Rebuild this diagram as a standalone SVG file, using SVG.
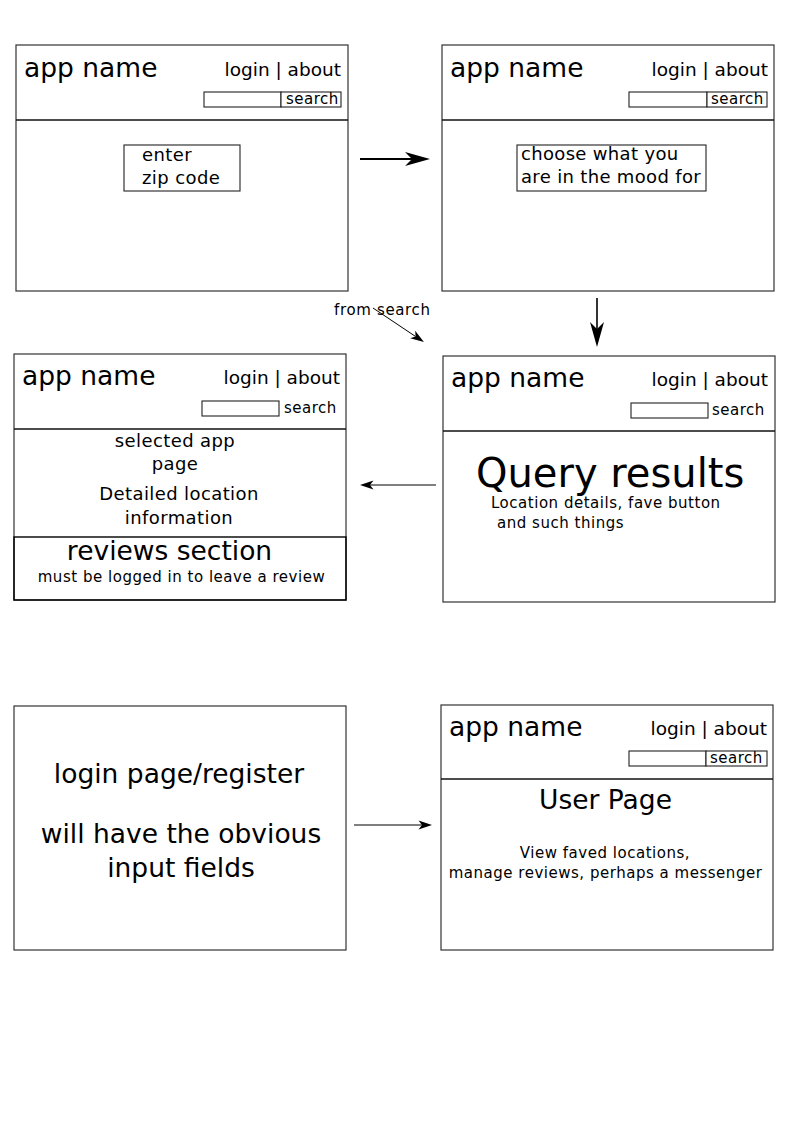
<svg xmlns="http://www.w3.org/2000/svg" width="794" height="1123" viewBox="0 0 794 1123">
<style>
  text { font-family: "DejaVu Sans", Verdana, sans-serif; fill: #000; }
  .frame { fill: #fff; stroke: #333; stroke-width: 1.2; }
  .div { stroke: #111; stroke-width: 1.3; fill: none; }
  .box { fill: #fff; stroke: #222; stroke-width: 1.1; }
  .title { font-size: 26.5px; }
  .nav { font-size: 18.5px; }
  .srch { font-size: 15px; letter-spacing: 0.5px; }
  .body { font-size: 18px; letter-spacing: 0.4px; }
  .small { font-size: 15px; letter-spacing: 0.52px; }
  .big { font-size: 40px; }
  .conn { stroke: #000; fill: none; }
</style>
<defs>
  <marker id="bigArrow" markerUnits="userSpaceOnUse" viewBox="-8 -8 27 16" refX="0" refY="0" markerWidth="27" markerHeight="16" orient="auto" overflow="visible">
    <path d="M18,0 L-7,-7 L0,0 L-7,7 Z" fill="#000"/>
  </marker>
  <marker id="smallArrow" markerUnits="userSpaceOnUse" viewBox="-4 -5 15 10" refX="0" refY="0" markerWidth="15" markerHeight="10" orient="auto" overflow="visible">
    <path d="M10,0 L-3.5,-4.5 L0,0 L-3.5,4.5 Z" fill="#000"/>
  </marker>
</defs>
<rect x="0" y="0" width="794" height="1123" fill="#fff"/>

<g id="zip-page">
  <rect class="frame" x="16" y="45" width="332" height="246"/>
  <line class="div" x1="16" y1="120" x2="348" y2="120"/>
  <text class="title" x="24" y="77">app name</text>
  <text class="nav" x="341" y="75.5" text-anchor="end">login | about</text>
  <rect class="box" x="204" y="92" width="77" height="15"/>
  <rect class="box" x="281" y="92" width="60" height="15"/>
  <text class="srch" x="286" y="104">search</text>
  <rect class="box" x="124" y="145" width="116" height="46"/>
  <text class="body" x="142" y="161">enter</text>
  <text class="body" x="142" y="184">zip code</text>
</g>

<g id="mood-page">
  <rect class="frame" x="442" y="45" width="332" height="246"/>
  <line class="div" x1="442" y1="120" x2="774" y2="120"/>
  <text class="title" x="450" y="77">app name</text>
  <text class="nav" x="768" y="75.5" text-anchor="end">login | about</text>
  <rect class="box" x="629" y="92" width="78" height="15"/>
  <rect class="box" x="707" y="92" width="60" height="15"/>
  <text class="srch" x="711" y="104">search</text>
  <rect class="box" x="517" y="145" width="189" height="46"/>
  <text class="body" x="521" y="160" style="letter-spacing:0.33px">choose what you</text>
  <text class="body" x="521" y="183" style="letter-spacing:0.33px">are in the mood for</text>
</g>

<g id="app-page">
  <rect class="frame" x="14" y="354" width="332" height="246"/>
  <line class="div" x1="14" y1="429" x2="346" y2="429"/>
  <text class="title" x="22" y="385">app name</text>
  <text class="nav" x="340" y="383.5" text-anchor="end">login | about</text>
  <rect class="box" x="202" y="401" width="77" height="15"/>
  <text class="srch" x="284" y="413">search</text>
  <text class="body" x="175" y="447" text-anchor="middle">selected app</text>
  <text class="body" x="175" y="470" text-anchor="middle">page</text>
  <text class="body" x="179" y="500" text-anchor="middle">Detailed location</text>
  <text class="body" x="179" y="524" text-anchor="middle">information</text>
  <rect x="14" y="537" width="332" height="63" fill="none" stroke="#000" stroke-width="1.4"/>
  <text class="title" x="169.5" y="560" text-anchor="middle">reviews section</text>
  <text class="small" x="181.5" y="582" text-anchor="middle">must be logged in to leave a review</text>
</g>

<g id="results-page">
  <rect class="frame" x="443" y="356" width="332" height="246"/>
  <line class="div" x1="443" y1="431" x2="775" y2="431"/>
  <text class="title" x="451" y="387">app name</text>
  <text class="nav" x="768" y="385.5" text-anchor="end">login | about</text>
  <rect class="box" x="631" y="403" width="77" height="15"/>
  <text class="srch" x="712" y="415">search</text>
  <text class="big" x="476" y="487">Query results</text>
  <text class="small" x="491" y="508">Location details, fave button</text>
  <text class="small" x="497" y="528">and such things</text>
</g>

<g id="login-page">
  <rect class="frame" x="14" y="706" width="332" height="244"/>
  <text class="title" x="179" y="782.5" text-anchor="middle">login page/register</text>
  <text class="title" x="181" y="843" text-anchor="middle">will have the obvious</text>
  <text class="title" x="181" y="877" text-anchor="middle">input fields</text>
</g>

<g id="user-page">
  <rect class="frame" x="441" y="705" width="332" height="245"/>
  <line class="div" x1="441" y1="779" x2="773" y2="779"/>
  <text class="title" x="449" y="736">app name</text>
  <text class="nav" x="767" y="734.5" text-anchor="end">login | about</text>
  <rect class="box" x="629" y="751" width="77" height="15"/>
  <rect class="box" x="706" y="751" width="61" height="15"/>
  <text class="srch" x="710" y="763">search</text>
  <text class="title" x="605.5" y="808.5" text-anchor="middle">User Page</text>
  <text class="small" x="605" y="858" text-anchor="middle">View faved locations,</text>
  <text class="small" x="605.5" y="878" text-anchor="middle">manage reviews, perhaps a messenger</text>
</g>

<g id="connectors">
  <line class="conn" x1="360" y1="159" x2="412" y2="159" stroke-width="2" marker-end="url(#bigArrow)"/>
  <line class="conn" x1="597" y1="298" x2="597" y2="329" stroke-width="1.6" marker-end="url(#bigArrow)"/>
  <line class="conn" x1="373" y1="308" x2="415.6" y2="336.5" stroke-width="1" marker-end="url(#smallArrow)"/>
  <line class="conn" x1="436" y1="485" x2="370" y2="485" stroke-width="1" marker-end="url(#smallArrow)"/>
  <line class="conn" x1="354" y1="825" x2="422" y2="825" stroke-width="1" marker-end="url(#smallArrow)"/>
  <text class="small" x="334" y="315" style="letter-spacing:0.65px">from search</text>
</g>
</svg>
